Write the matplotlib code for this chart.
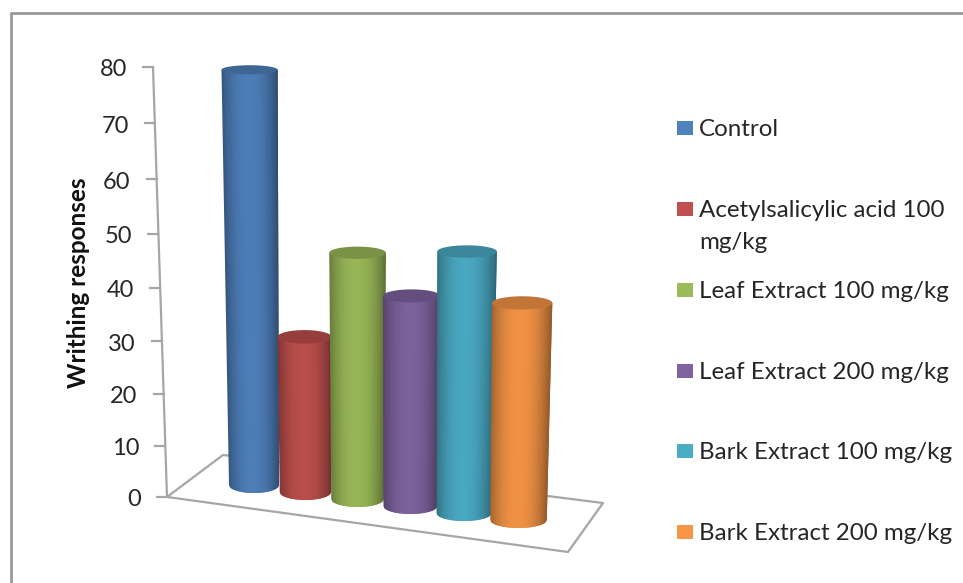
import matplotlib
matplotlib.use('Agg')
import matplotlib.pyplot as plt
import numpy as np
from matplotlib.lines import Line2D
from matplotlib.patches import Rectangle
from matplotlib.transforms import IdentityTransform

groups = ["Control", "Acetylsalicylic acid 100\nmg/kg", "Leaf Extract 100 mg/kg",
          "Leaf Extract 200 mg/kg", "Bark Extract 100 mg/kg", "Bark Extract 200 mg/kg"]
responses = [77.4, 29.9, 46.9, 40.2, 49.7, 41.5]
colors = ['#4F81BD', '#C0504D', '#9BBB59', '#8064A2', '#4BACC6', '#F79646']
y_ticks = [0, 10, 20, 30, 40, 50, 60, 70, 80]
y_title = "Writhing responses"

W, H = 963, 583
plt.rcParams['font.family'] = ['Lato', 'DejaVu Sans']
text_color = '#262626'
line_color = '#A6A6A6'


# value axis and category axis both foreshorten a little in the 3-D view
def value_fwd(v):
    v = np.asarray(v, dtype=float)
    return 5.08 * v / (1 - 0.000674 * v)


def value_inv(h):
    h = np.asarray(h, dtype=float)
    return h / (5.08 + 0.000674 * h)


def slot_fwd(s):
    s = np.asarray(s, dtype=float)
    return 51 * s + 0.38 * s ** 2


def slot_inv(h):
    h = np.asarray(h, dtype=float)
    return (-51 + np.sqrt(np.maximum(51 ** 2 + 4 * 0.38 * h, 0))) / (2 * 0.38)


def px(x, y):
    # top-left pixel position to display coordinates
    return x, H - y


fig = plt.figure(figsize=(W / 100, H / 100), dpi=100, facecolor='white')
ax = fig.add_axes([167 / W, (H - 497) / H, (603 - 167) / W, 430 / H])
ax.set_xscale('function', functions=(slot_fwd, slot_inv))
ax.set_yscale('function', functions=(value_fwd, value_inv))
ax.set_xlim(slot_inv(167 - 254), slot_inv(603 - 254))
ax.set_ylim(0, 80)
ax.axis('off')

ident = IdentityTransform()


def screen_line(xs, ys, color=line_color, lw=1.6, z=1):
    pts = [px(x, y) for x, y in zip(xs, ys)]
    ax.add_line(Line2D([p[0] for p in pts], [p[1] for p in pts], transform=ident,
                       color=color, lw=lw, zorder=z, clip_on=False, solid_capstyle='butt'))


# outer frame, top and left sides only
screen_line([10.5, 10.5, W], [H, 12.5, 12.5], color='#999999', lw=2.0)

# floor parallelogram
screen_line([167, 568, 603, 223, 167], [497, 552, 503, 455, 497])

# slanted value axis with its ticks and labels
screen_line([153, 167], [67, 497])
for t in y_ticks:
    ty = ax.transData.transform((0, t))[1]
    ax_x = 167 - 14 * t / 80
    ax.add_line(Line2D([ax_x - 10, ax_x], [ty, ty], transform=ident, color=line_color,
                       lw=1.6, clip_on=False, zorder=1))
    ax.text(ax_x - 26, ty - 3, str(t), ha='right', va='center', fontsize=17,
            color=text_color, transform=ident, clip_on=False)

fig.text(78 / W, (H - 283) / H, y_title, rotation=90, ha='center', va='center',
         fontsize=17.5, fontweight='bold', color='#111111')

vanish_x = ax.transData.transform((2, 0))[0]


def project(i, v, u=0.0, lift=0.0):
    x0, y0 = ax.transData.transform((i, v))
    half = (25 + 0.65 * i) * (1 + 0.0016 * v)
    x = x0 + (x0 - vanish_x) * 0.00055 * v + u * half
    return x, y0 + 12 - 7 * i + lift


def shade(hex_color, k):
    rgb = np.array(matplotlib.colors.to_rgb(hex_color))
    return tuple(np.clip(rgb * k, 0, 1))


# cylinders, left to right so that later ones sit in front
us = np.linspace(-1, 1, 61)
for i, (v, c) in enumerate(zip(responses, colors)):
    z = 3 + i
    b_low = 8.0
    b_top = 8 + 0.1 * i - 0.045 * v
    for n in range(len(us) - 1):
        # each strip runs under the next one, which hides the seams
        part = us[n:min(n + 3, len(us))]
        low = [project(i, 0, u, -b_low * np.sqrt(max(1 - u ** 2, 0))) for u in part]
        high = [project(i, v, u) for u in part[::-1]]
        outline = low + high
        um = (us[n] + us[n + 1]) / 2
        k = 0.97 - 0.34 * abs(um + 0.05) ** 2.2
        ax.fill([p[0] for p in outline], [p[1] for p in outline], color=shade(c, k), lw=0,
                transform=ident, clip_on=False, zorder=z)
    # top cap
    ts = np.linspace(0, 2 * np.pi, 80)
    cap = [project(i, v, np.cos(t), b_top * np.sin(t)) for t in ts]
    ax.fill([p[0] for p in cap], [p[1] for p in cap], color=shade(c, 0.78), lw=0,
            transform=ident, clip_on=False, zorder=z)

# legend column
row_base = [136, 217, 298, 379, 459, 540]
for name, c, base in zip(groups, colors, row_base):
    x0, y0 = px(677, base - 1)
    fig.add_artist(Rectangle((x0, y0), 16, 14, transform=ident, facecolor=c, edgecolor='none'))
    lines = name.split('\n')
    for n, line in enumerate(lines):
        lx, ly = px(699, base + 32 * n)
        fig.text(lx / W, ly / H, line, ha='left', va='baseline', fontsize=17.4, color=text_color)

fig.savefig('out.png', dpi=100)
